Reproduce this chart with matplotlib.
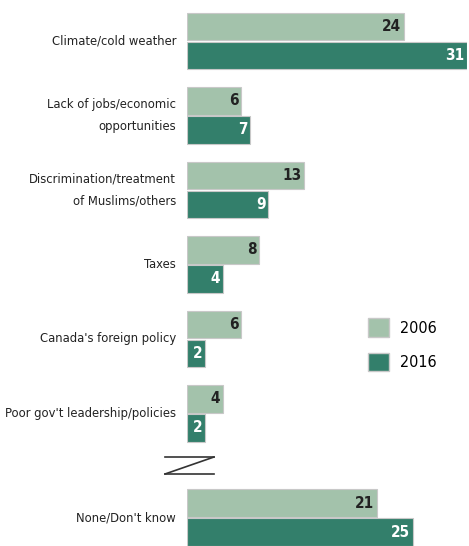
import matplotlib
matplotlib.use("Agg")
import matplotlib.pyplot as plt
from matplotlib.lines import Line2D
from matplotlib.patches import Patch

# 数据
categories = ["Climate/cold weather", "Lack of jobs/economic\nopportunities",
              "Discrimination/treatment\nof Muslims/others", "Taxes",
              "Canada's foreign policy", "Poor gov't leadership/policies",
              "None/Don't know"]
vals_2006 = [24, 6, 13, 8, 6, 4, 21]
vals_2016 = [31, 7, 9, 4, 2, 2, 25]
series_names = ["2006", "2016"]

c_light = "#a3c2ab"
c_dark = "#337f6b"
edge = "#c8c8c8"

plt.rcParams['font.family'] = ['DejaVu Sans']
plt.rcParams['font.stretch'] = 'condensed'

fig = plt.figure(figsize=(4.69, 5.46), dpi=100)
ax = fig.add_axes([187 / 469, 0, 280 / 469, 1])

# 组的位置（最后一组在断轴之后）
ypos = [0, 1, 2, 3, 4, 5, 6.4]
h = 0.37
off = 0.195

for i, y in enumerate(ypos):
    ax.barh(y - off, vals_2006[i], height=h, color=c_light, edgecolor=edge, linewidth=0.8)
    ax.barh(y + off, vals_2016[i], height=h, color=c_dark, edgecolor=edge, linewidth=0.8)
    ax.text(vals_2006[i] - 0.3, y - off, str(vals_2006[i]), ha="right", va="center",
            fontsize=11, fontweight="bold", color="#222222")
    ax.text(vals_2016[i] - 0.3, y + off, str(vals_2016[i]), ha="right", va="center",
            fontsize=11, fontweight="bold", color="white")
    ax.text(-1.2, y, categories[i], ha="right", va="center", fontsize=9.3,
            color="#222222", linespacing=1.85)

ax.set_xlim(0, 31)
ax.set_ylim(6.78, -0.55)
ax.axis("off")

# 断轴符号
x0, x1 = 165 / 469, 214 / 469
ya, yb = 1 - 457 / 546, 1 - 474 / 546
for line in [([x0, x1], [ya, ya]), ([x0, x1], [yb, yb]), ([x0, x1], [yb, ya])]:
    fig.add_artist(Line2D(line[0], line[1], color="#333333", lw=1.2))

handles = [Patch(facecolor=c_light, edgecolor=edge), Patch(facecolor=c_dark, edgecolor=edge)]
fig.legend(handles, series_names, loc="upper left", bbox_to_anchor=(354 / 469, 1 - 304 / 546),
           frameon=False, fontsize=11.5, handlelength=1.3, handleheight=1.4,
           labelspacing=1.0, handletextpad=0.7)

fig.savefig("out.png", dpi=100)
